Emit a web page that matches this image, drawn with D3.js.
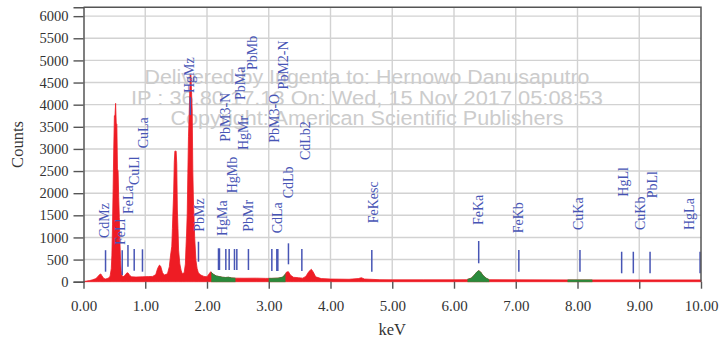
<!DOCTYPE html>
<html><head><meta charset="utf-8">
<script src="https://cdn.jsdelivr.net/npm/d3@7/dist/d3.min.js"></script>
<style>body{margin:0;background:#fff}</style>
</head><body><svg id="c" width="719" height="341"></svg>
<script>
// ---- spectrum (keV, counts) ----
const specKeV = [0.00,0.05,0.10,0.15,0.20,0.23,0.26,0.28,0.30,0.33,0.36,0.40,0.43,0.45,0.46,0.47,0.48,0.49,0.50,0.51,0.52,0.53,0.54,0.55,0.56,0.57,0.58,0.59,0.60,0.61,0.62,0.64,0.67,0.70,0.72,0.75,0.78,0.85,0.95,1.05,1.12,1.17,1.20,1.23,1.25,1.28,1.31,1.36,1.39,1.41,1.43,1.44,1.45,1.46,1.47,1.48,1.50,1.51,1.52,1.53,1.54,1.56,1.58,1.60,1.63,1.65,1.66,1.67,1.68,1.69,1.70,1.71,1.72,1.73,1.74,1.75,1.76,1.77,1.78,1.80,1.82,1.84,1.86,1.90,1.95,2.00,2.03,2.06,2.08,2.10,2.15,2.20,2.25,2.30,2.35,2.40,2.46,2.60,2.80,2.95,3.05,3.15,3.22,3.26,3.29,3.32,3.35,3.40,3.48,3.55,3.60,3.65,3.69,3.72,3.76,3.85,4.00,4.30,4.45,4.50,4.55,4.80,5.00,5.50,6.00,6.20,6.28,6.33,6.37,6.40,6.43,6.47,6.52,6.57,7.00,8.00,9.00,10.00];
const specCounts = [5,15,25,45,70,110,160,175,130,70,60,80,120,300,600,1300,2100,3000,3750,3750,4030,3580,3560,2550,2500,1900,1450,900,480,250,150,110,140,195,200,140,110,105,110,115,120,160,300,375,350,200,150,180,340,600,800,1200,1620,2000,2700,2950,2950,2670,1620,1200,715,400,260,180,200,400,790,1100,1550,2450,3275,3700,4260,4668,4668,4260,3880,2520,1845,1015,490,300,200,150,120,110,170,225,200,170,130,115,100,95,100,85,80,78,80,75,75,80,100,150,220,225,150,100,90,80,120,230,280,220,110,70,60,55,70,90,60,45,42,42,42,45,80,150,220,250,220,140,80,45,42,40,40,40];

// fitted (green) regions, keV
const fitStart = [2.07, 3.00, 6.22, 7.84];
const fitEnd   = [2.46, 3.27, 6.57, 8.24];

// marker lines: energy, lower/upper count
const markKeV  = [0.357,0.627,0.72,0.821,0.955,1.73,1.862,2.186,2.202,2.305,2.359,2.445,2.483,2.671,3.05,3.131,3.147,3.319,3.536,4.669,6.40,7.05,8.04,8.715,8.904,9.175,9.985];
const markLow  = [226,151,339,248,226,3765,452,264,264,264,264,264,264,264,242,242,242,393,242,226,416,226,226,190,190,190,190];
const markHigh = [712,712,829,738,732,4171,903,754,754,738,738,738,738,738,738,738,738,867,738,716,919,716,716,677,677,677,677];

// element labels: name, energy, count where text starts
const labelNames = ["CdMz","FeLl","FeLa","CuLl","CuLa","HgMz","PbMz","HgMa","HgMb","PbM3-N","PbMa","HgMr","PbMb","PbMr","PbM3-O","CdLa","PbM2-N","CdLb","CdLb2","FeKesc","FeKa","FeKb","CuKa","HgLl","CuKb","PbLl","HgLa"];
const labelKeV   = [0.327,0.594,0.716,0.821,0.966,1.706,1.870,2.241,2.402,2.294,2.537,2.590,2.726,2.671,3.087,3.131,3.238,3.319,3.589,4.685,6.395,7.042,8.014,8.742,9.012,9.212,9.811];
const labelBase  = [987,829,1529,2184,3013,4262,1129,1032,1996,3162,4103,2974,4781,1129,3139,1093,4345,1883,2748,1319,1280,1093,1168,1920,1168,1883,1168];

const xTickValues = [0,1,2,3,4,5,6,7,8,9,10];
const yTickValues = [0,500,1000,1500,2000,2500,3000,3500,4000,4500,5000,5500,6000];
const watermarkLines = ["Delivered by Ingenta to: Hernowo Danusaputro","IP : 36.80.17.13 On: Wed, 15 Nov 2017 05:08:53","Copyright: American Scientific Publishers"];
const watermarkWidths = [445, 472, 393];

const svg = d3.select("#c");
const X0 = 83.5, X1 = 701, Y0 = 281.7, Y1 = 7.3;
const x = d3.scaleLinear().domain([0,10]).range([X0,X1]);
const y = d3.scaleLinear().domain([0,6200]).range([Y0,Y1]);
const serif = "'Liberation Serif','Times New Roman',serif";
const blue = "#4755b5";

// grid
const g = svg.append("g");
g.selectAll(".vg").data(xTickValues.slice(1,-1)).join("line")
  .attr("x1",d=>x(d)).attr("x2",d=>x(d)).attr("y1",Y1).attr("y2",Y0)
  .attr("stroke","#d2d2d2").attr("stroke-width",1.4);
g.selectAll(".hg").data(yTickValues.slice(1)).join("line")
  .attr("x1",X0).attr("x2",X1).attr("y1",d=>y(d)).attr("y2",d=>y(d))
  .attr("stroke","#d2d2d2").attr("stroke-width",1.4);

// watermark
svg.append("g").selectAll("text").data(watermarkLines).join("text")
  .attr("x",367).attr("y",(d,i)=>84+i*20.5)
  .attr("text-anchor","middle")
  .attr("textLength",(d,i)=>watermarkWidths[i]).attr("lengthAdjust","spacingAndGlyphs")
  .attr("font-family","'Liberation Sans',Arial,sans-serif").attr("font-size",19.5)
  .attr("fill","#cccccc").text(d=>d);

// spectrum
const pts = specKeV.map((k,i)=>[k,specCounts[i]]);
const area = d3.area().x(d=>x(d[0])).y0(y(0)).y1(d=>y(d[1]));
svg.append("path").datum(pts).attr("d",area).attr("fill","#ee1c24")
  .attr("stroke","#ee1c24").attr("stroke-width",0.8);

// green fitted regions
const defs = svg.append("defs");
fitStart.forEach((s,i)=>{
  defs.append("clipPath").attr("id","fit"+i).append("rect")
    .attr("x",x(s)).attr("width",x(fitEnd[i])-x(s)).attr("y",0).attr("height",341);
  svg.append("path").datum(pts).attr("d",area).attr("fill","#2a8a3c")
    .attr("stroke","#2a8a3c").attr("stroke-width",0.8)
    .attr("clip-path",`url(#fit${i})`);
});

// marker lines
svg.append("g").selectAll("line").data(markKeV).join("line")
  .attr("x1",d=>x(d)).attr("x2",d=>x(d))
  .attr("y1",(d,i)=>y(markLow[i])).attr("y2",(d,i)=>y(markHigh[i]))
  .attr("stroke",blue).attr("stroke-width",1.5);

// labels
svg.append("g").selectAll("text").data(labelNames).join("text")
  .attr("transform",(d,i)=>`translate(${x(labelKeV[i])},${y(labelBase[i])}) rotate(-90)`)
  .attr("dy","0.35em")
  .attr("font-family",serif).attr("font-size",14).attr("fill",blue).text(d=>d);

// axes
const axisColor = "#555";
const yAxis = svg.append("g").attr("transform",`translate(${X0},0)`)
  .call(d3.axisLeft(y).tickValues(yTickValues).tickSize(10).tickPadding(5).tickFormat(d3.format("d")));
const xAxis = svg.append("g").attr("transform",`translate(0,${Y0})`)
  .call(d3.axisBottom(x).tickValues(xTickValues).tickSize(7).tickPadding(12).tickFormat(d3.format(".2f")));
[yAxis,xAxis].forEach(a=>{
  a.select(".domain").attr("stroke",axisColor).attr("stroke-width",1.5);
  a.selectAll(".tick line").attr("stroke",axisColor).attr("stroke-width",1.4);
  a.selectAll("text").attr("font-family",serif).attr("font-size",14.5).attr("fill","#333");
});
xAxis.select(".domain").attr("stroke","none");
xAxis.selectAll("text").attr("font-size",15);

// frame top/right
svg.append("path").attr("d",`M${X0},${Y1}H${X1}V${Y0}`).attr("fill","none")
  .attr("stroke",axisColor).attr("stroke-width",1.5);

// titles
svg.append("text").attr("x",(X0+X1)/2).attr("y",335).attr("text-anchor","middle")
  .attr("font-family",serif).attr("font-size",16.5).attr("fill","#333").text("keV");
svg.append("text").attr("transform",`translate(23,${(Y0+Y1)/2}) rotate(-90)`)
  .attr("text-anchor","middle").attr("font-family",serif).attr("font-size",16.5)
  .attr("fill","#333").text("Counts");
</script></body></html>
